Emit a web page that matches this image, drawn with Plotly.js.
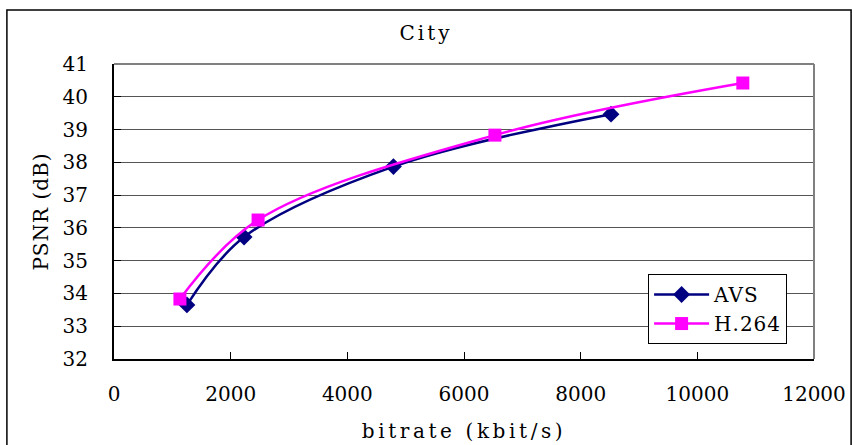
<!DOCTYPE html>
<html><head><meta charset="utf-8">
<script src="https://cdn.plot.ly/plotly-3.0.1.min.js"></script>
<style>
html,body{margin:0;padding:0;background:#fff;}
#chart{width:852px;height:445px;}
.gtitle{letter-spacing:3px;}
.xtitle{letter-spacing:3.6px;}
.ytitle{letter-spacing:1px;}
.legendtext{letter-spacing:1px;}
</style>
</head><body><div id="chart"></div>
<script>
const avsBitrate = [1250, 2230, 4790, 8520];
const avsPsnr = [33.65, 35.72, 37.87, 39.47];
const h264Bitrate = [1130, 2470, 6530, 10780];
const h264Psnr = [33.83, 36.24, 38.83, 40.42];
const yTicks = [32, 33, 34, 35, 36, 37, 38, 39, 40, 41];
const xTicks = [0, 2000, 4000, 6000, 8000, 10000, 12000];

const font = 'DejaVu Serif, serif';
const traces = [
  {x: avsBitrate, y: avsPsnr, name: 'AVS', mode: 'lines+markers', type: 'scatter',
   line: {color: '#000080', width: 2.5, shape: 'spline', smoothing: 1},
   marker: {symbol: 'diamond', size: 13, color: '#000080'}},
  {x: h264Bitrate, y: h264Psnr, name: 'H.264', mode: 'lines+markers', type: 'scatter',
   line: {color: '#FF00FF', width: 2.5, shape: 'spline', smoothing: 1},
   marker: {symbol: 'square', size: 13, color: '#FF00FF'}}
];
const layout = {
  width: 852, height: 445,
  margin: {l: 114, r: 38, t: 64, b: 86},
  paper_bgcolor: '#fff', plot_bgcolor: '#fff',
  font: {family: font, color: '#000', size: 20},
  title: {text: 'City', font: {family: font, size: 20}, x: 0.5, xanchor: 'center', y: 0.925, yanchor: 'middle'},
  xaxis: {range: [0, 12000], tickvals: xTicks, ticktext: xTicks.map(String),
    showgrid: false, zeroline: false, showline: true, linecolor: '#000', linewidth: 2,
    ticks: 'inside', ticklen: 7, tickcolor: '#000', tickfont: {family: font, size: 20}, ticklabelstandoff: 16,
    title: {text: 'bitrate (kbit/s)', font: {family: font, size: 20}, standoff: 19}},
  yaxis: {range: [32, 41], tickvals: yTicks, ticktext: yTicks.map(String),
    showgrid: true, gridcolor: '#555', gridwidth: 1, zeroline: false,
    showline: true, linecolor: '#000', linewidth: 2,
    ticks: 'inside', ticklen: 7, tickcolor: '#000', tickfont: {family: font, size: 20}, ticklabelstandoff: 20,
    title: {text: 'PSNR (dB)', font: {family: font, size: 20}, standoff: 9}},
  showlegend: true,
  legend: {x: 0.763, y: 0.288, xanchor: 'left', yanchor: 'top', bgcolor: '#fff',
    bordercolor: '#000', borderwidth: 1, font: {family: font, size: 20}, itemwidth: 55, tracegroupgap: 0},
  shapes: [
    {type: 'line', xref: 'paper', yref: 'paper', x0: 0, x1: 1, y0: 1, y1: 1, line: {color: '#808080', width: 2}},
    {type: 'line', xref: 'paper', yref: 'paper', x0: 1, x1: 1, y0: 0, y1: 1, line: {color: '#808080', width: 2}},
    {type: 'rect', xref: 'paper', yref: 'paper', x0: -0.153, x1: 1.053, y0: -0.4, y1: 1.183, line: {color: '#000', width: 1.5}, layer: 'below'}
  ]
};
Plotly.newPlot('chart', traces, layout, {displayModeBar: false, staticPlot: true});
</script></body></html>
